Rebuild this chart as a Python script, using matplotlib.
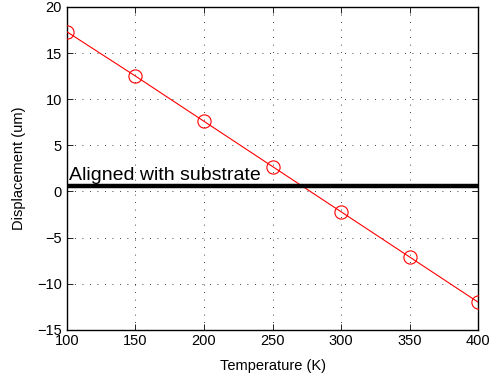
import matplotlib
matplotlib.use("Agg")
import matplotlib.pyplot as plt

temperature = [100, 150, 200, 250, 300, 350, 400]
displacement = [17.3, 12.5, 7.6, 2.7, -2.2, -7.1, -12.0]
substrate_level = 0.55
xticks = [100, 150, 200, 250, 300, 350, 400]
yticks = [-15, -10, -5, 0, 5, 10, 15, 20]

plt.rcParams['font.family'] = ['Liberation Sans', 'DejaVu Sans']
fig = plt.figure(figsize=(4.92, 3.81), dpi=100)
ax = fig.add_axes([0.136, 0.134, 0.836, 0.848])

ax.plot(temperature, displacement, color='red', lw=0.8, marker='o', ms=9.5,
        mfc='none', mec='red', mew=0.8, zorder=3)
ax.axhline(substrate_level, color='black', lw=3.2, zorder=4)
ax.text(101.5, substrate_level + 0.3, 'Aligned with substrate', fontsize=14,
        ha='left', va='bottom', color='black')

ax.set_xlim(100, 400)
ax.set_ylim(-15, 20)
ax.set_xticks(xticks)
ax.set_yticks(yticks)
ax.set_yticklabels([str(v).replace('-', '\u2212') for v in yticks])
ax.tick_params(direction='in', top=True, right=True, labelsize=10.5, length=4, width=0.6)
ax.tick_params(axis='x', pad=3)
ax.grid(True, color='black', linestyle=(0, (1, 8)), linewidth=0.6)
for s in ax.spines.values():
    s.set_linewidth(1.0)
ax.set_xlabel('Temperature (K)', fontsize=10.5, labelpad=8)
ax.set_ylabel('Displacement (um)', fontsize=10.5, labelpad=8)

fig.savefig('out.png', dpi=100)
